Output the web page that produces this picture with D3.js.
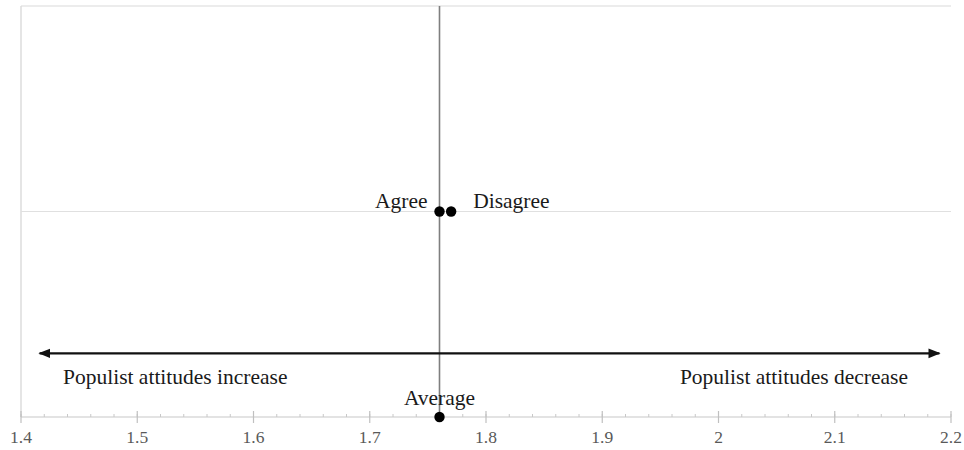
<!DOCTYPE html>
<html>
<head>
<meta charset="utf-8">
<script src="https://cdn.jsdelivr.net/npm/d3@7"></script>
<style>
html,body{margin:0;padding:0;background:#fff;}
svg{display:block;}
</style>
</head>
<body>
<svg id="chart" width="964" height="450"></svg>
<script>
// Data
const pointLabels = ["Agree", "Disagree", "Average"];
const pointX = [1.76, 1.77, 1.76];
const pointY = [1, 1, 0];
const xTicks = [1.4, 1.5, 1.6, 1.7, 1.8, 1.9, 2.0, 2.1, 2.2];
const xTickLabels = ["1.4", "1.5", "1.6", "1.7", "1.8", "1.9", "2", "2.1", "2.2"];
const averageLine = 1.76;
const arrowStart = 1.416;
const arrowEnd = 2.19;
const arrowY = 0.31;
const arrowLabels = ["Populist attitudes increase", "Populist attitudes decrease"];

const svg = d3.select("#chart");
const margin = {left: 21, right: 13, top: 6, bottom: 33};
const W = 964, H = 450;
const x = d3.scaleLinear().domain([1.4, 2.2]).range([margin.left, W - margin.right]);
const y = d3.scaleLinear().domain([0, 2]).range([H - margin.bottom, margin.top]);
const font = "'Liberation Serif', 'Times New Roman', serif";

// plot frame (top & left light borders)
svg.append("line").attr("x1", x(1.4)).attr("x2", x(2.2)).attr("y1", y(2)).attr("y2", y(2))
  .attr("stroke", "#e6e6e6").attr("stroke-width", 1.5);
svg.append("line").attr("x1", x(1.4)).attr("x2", x(1.4)).attr("y1", y(2)).attr("y2", y(0))
  .attr("stroke", "#dcdcdc").attr("stroke-width", 1.5);

// horizontal gridline
svg.append("line").attr("x1", x(1.4)).attr("x2", x(2.2)).attr("y1", y(1)).attr("y2", y(1))
  .attr("stroke", "#e0e0e0").attr("stroke-width", 1.2);

// x axis
const minorTicks = d3.range(1.4, 2.2001, 0.02);
const axisG = svg.append("g").attr("transform", `translate(0,${y(0)})`);
axisG.append("line").attr("x1", x(1.4)).attr("x2", x(2.2)).attr("stroke", "#c8c8c8").attr("stroke-width", 1.2);
axisG.selectAll("line.minor").data(minorTicks).enter().append("line").attr("class", "minor")
  .attr("x1", d => x(d)).attr("x2", d => x(d)).attr("y1", -3).attr("y2", 0)
  .attr("stroke", "#c8c8c8").attr("stroke-width", 1);
axisG.selectAll("line.major").data(xTicks).enter().append("line").attr("class", "major")
  .attr("x1", d => x(d)).attr("x2", d => x(d)).attr("y1", -6).attr("y2", 6)
  .attr("stroke", "#c0c0c0").attr("stroke-width", 1.2);
axisG.selectAll("text").data(xTicks).enter().append("text")
  .attr("x", d => x(d)).attr("y", 26).attr("text-anchor", "middle")
  .attr("font-family", font).attr("font-size", 17.5).attr("fill", "#595959")
  .text((d, i) => xTickLabels[i]);

// vertical average line
svg.append("line").attr("x1", x(averageLine)).attr("x2", x(averageLine))
  .attr("y1", y(2)).attr("y2", y(0)).attr("stroke", "#7f7f7f").attr("stroke-width", 1.6);

// arrow
const defs = svg.append("defs");
defs.append("marker").attr("id", "ah").attr("viewBox", "0 0 10 10").attr("refX", 9).attr("refY", 5)
  .attr("markerWidth", 5.5).attr("markerHeight", 5.5).attr("orient", "auto-start-reverse")
  .attr("markerUnits", "strokeWidth")
  .append("path").attr("d", "M0,1 L10,5 L0,9 z").attr("fill", "#111");
svg.append("line").attr("x1", x(arrowStart)).attr("x2", x(arrowEnd))
  .attr("y1", y(arrowY)).attr("y2", y(arrowY))
  .attr("stroke", "#111").attr("stroke-width", 2.2)
  .attr("marker-start", "url(#ah)").attr("marker-end", "url(#ah)");

svg.append("text").attr("x", 63).attr("y", y(arrowY) + 31)
  .attr("font-family", font).attr("font-size", 21.5).attr("fill", "#1a1a1a")
  .text(arrowLabels[0]);
svg.append("text").attr("x", 908).attr("y", y(arrowY) + 31).attr("text-anchor", "end")
  .attr("font-family", font).attr("font-size", 21.5).attr("fill", "#1a1a1a")
  .text(arrowLabels[1]);

// points
svg.selectAll("circle.pt").data(pointLabels).enter().append("circle").attr("class", "pt")
  .attr("cx", (d, i) => x(pointX[i])).attr("cy", (d, i) => y(pointY[i])).attr("r", 5.2)
  .attr("fill", "#000");

// point labels
const lbl = svg.append("g").attr("font-family", font).attr("font-size", 21.5).attr("fill", "#1a1a1a");
lbl.append("text").attr("x", x(pointX[0]) - 12).attr("y", y(pointY[0]) - 4).attr("text-anchor", "end").text(pointLabels[0]);
lbl.append("text").attr("x", x(pointX[1]) + 22).attr("y", y(pointY[1]) - 4).attr("text-anchor", "start").text(pointLabels[1]);
lbl.append("text").attr("x", x(pointX[2])).attr("y", y(pointY[2]) - 12).attr("text-anchor", "middle").text(pointLabels[2]);
</script>
</body>
</html>
